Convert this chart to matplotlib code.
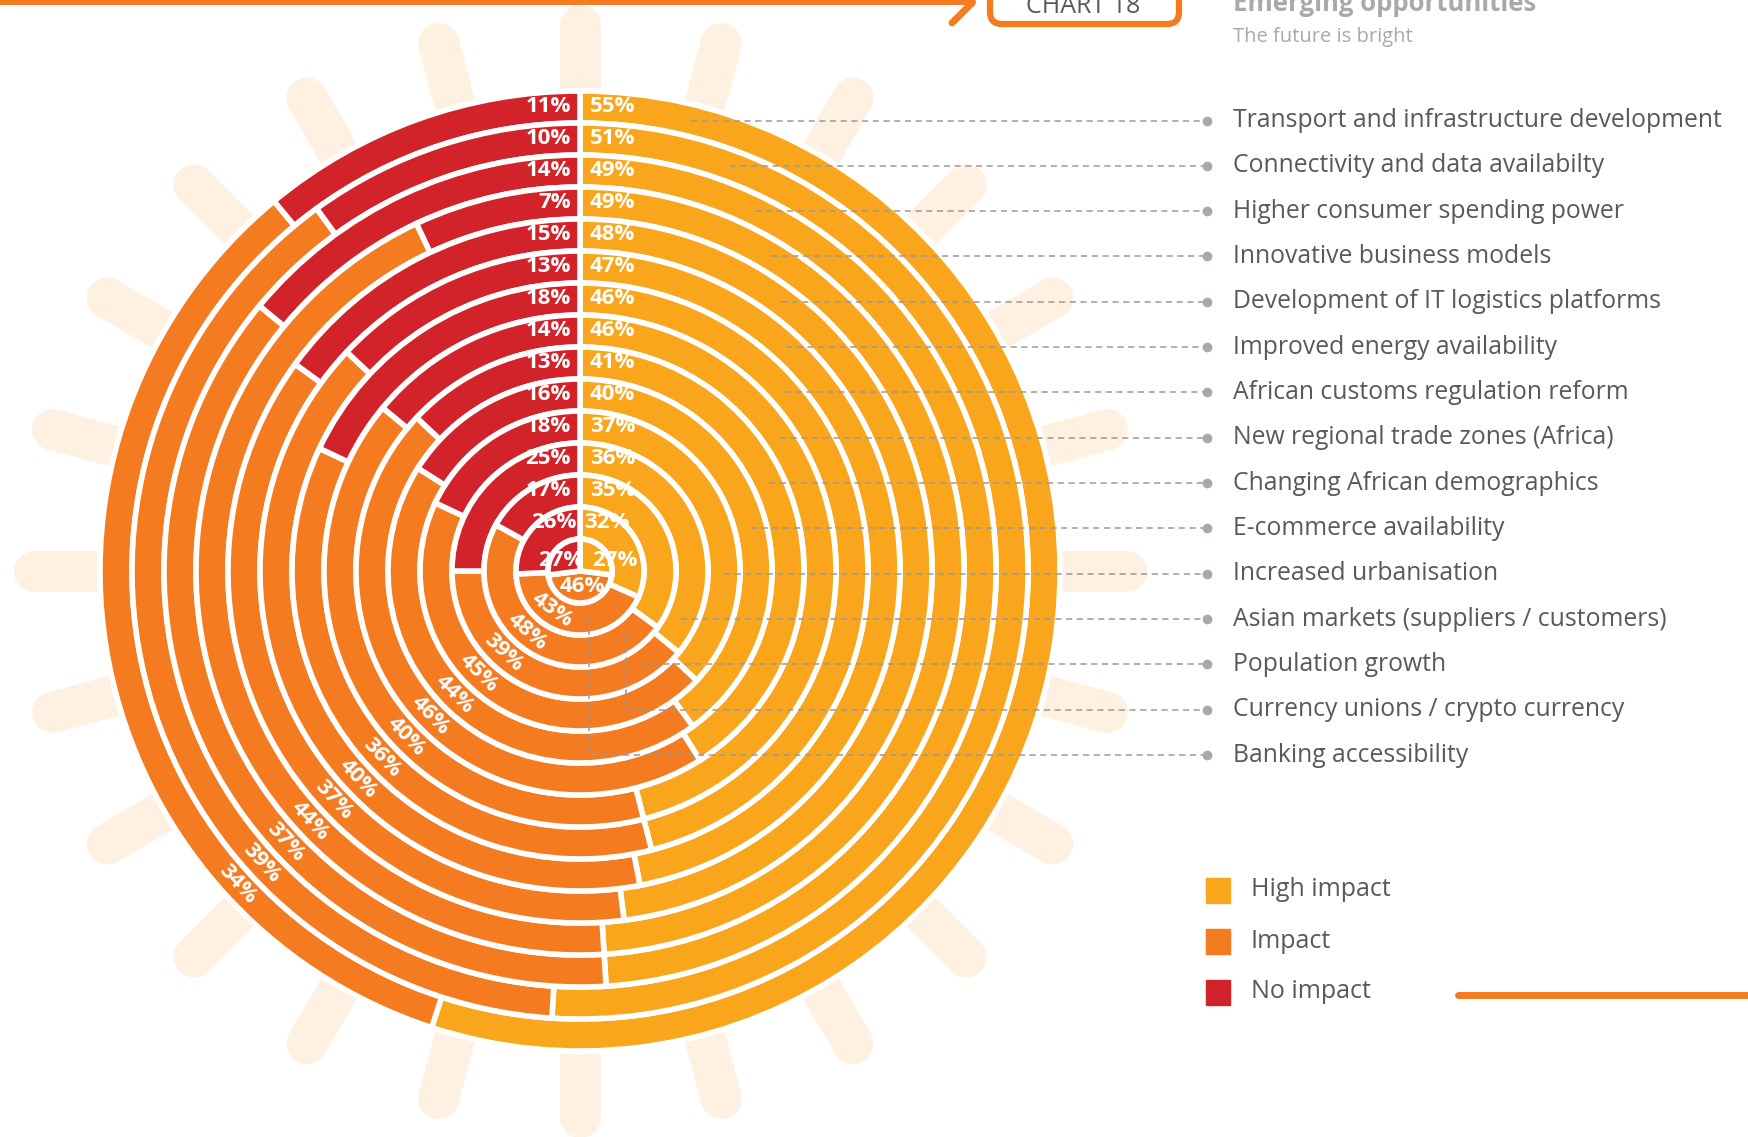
import numpy as np
import matplotlib.pyplot as plt
from matplotlib.patches import Wedge, Circle, Rectangle, FancyBboxPatch

plt.rcParams['font.family'] = ['Open Sans', 'DejaVu Sans']

# data (outermost ring first)
categories = [
    "Transport and infrastructure development",
    "Connectivity and data availabilty",
    "Higher consumer spending power",
    "Innovative business models",
    "Development of IT logistics platforms",
    "Improved energy availability",
    "African customs regulation reform",
    "New regional trade zones (Africa)",
    "Changing African demographics",
    "E-commerce availability",
    "Increased urbanisation",
    "Asian markets (suppliers / customers)",
    "Population growth",
    "Currency unions / crypto currency",
    "Banking accessibility",
]
high = [55, 51, 49, 49, 48, 47, 46, 46, 41, 40, 37, 36, 35, 32, 27]
impact = [34, 39, 37, 44, 37, 40, 36, 40, 46, 44, 45, 39, 48, 43, 46]
no_impact = [11, 10, 14, 7, 15, 13, 18, 14, 13, 16, 18, 25, 17, 26, 27]
legend_labels = ["High impact", "Impact", "No impact"]

YELLOW = "#F9A61C"
ORANGE = "#F47B20"
RED = "#D2232A"
colors = [YELLOW, ORANGE, RED]
DARK = "#58595B"
LIGHT = "#A7A9AC"

W, H = 1749, 1137
cx, cy = 580, H - 571
ring_w = 32
n = len(categories)


def Y(y_img):
    return H - y_img


fig = plt.figure(figsize=(W / 100, H / 100), dpi=100)
ax = fig.add_axes([0, 0, 1, 1])
ax.set_xlim(0, W)
ax.set_ylim(0, H)
ax.axis("off")

# sun rays behind the rings
for a in range(0, 360, 15):
    t = np.deg2rad(90 - a)
    ax.plot([cx + 400 * np.cos(t), cx + 546 * np.cos(t)],
            [cy + 400 * np.sin(t), cy + 546 * np.sin(t)],
            color="#FEF1E2", lw=41 * 0.72, solid_capstyle="round", zorder=1)
ax.add_patch(Circle((cx, cy), 482, color="white", zorder=2))

# rings
ang = np.deg2rad(41)
d = np.array([-np.cos(ang), -np.sin(ang)])
p0 = np.array([0.0, -14.6])
for k in range(n):
    i = n - 1 - k
    r_out = ring_w * (i + 1)
    width = ring_w if i > 0 else None
    vals = [high[k], impact[k], no_impact[k]]
    tot = sum(vals)
    a0 = 0
    for v, c in zip(vals, colors):
        a1 = a0 + v / tot * 360
        ax.add_patch(Wedge((cx, cy), r_out, 90 - a1, 90 - a0, width=width,
                           facecolor=c, edgecolor="white", lw=4, zorder=3))
        a0 = a1

    lab = dict(color="white", fontsize=16, fontweight="bold", zorder=6)
    if i > 0:
        r_mid = r_out - ring_w / 2
        off = 4 if i == 1 else 10
        ax.text(cx + off, cy + r_mid, f"{high[k]}%", ha="left", va="center", **lab)
        ax.text(cx - off + 1, cy + r_mid, f"{no_impact[k]}%", ha="right", va="center", **lab)
        b = p0 @ d
        t = -b + np.sqrt(b ** 2 - p0 @ p0 + r_mid ** 2)
        p = p0 + t * d
        rot = np.degrees(np.arctan2(p[1], p[0])) + 90
        ax.text(cx + p[0], cy + p[1], f"{impact[k]}%", ha="center", va="center",
                rotation=rot, rotation_mode="anchor", **lab)
    else:
        ax.text(cx + 12, cy + 11, f"{high[k]}%", ha="left", va="center", **lab)
        ax.text(cx + 4, cy + 11, f"{no_impact[k]}%", ha="right", va="center", **lab)
        ax.text(cx + 2, cy - 16, f"{impact[k]}%", ha="center", va="center", **lab)

# leader lines and category labels
dot_x = 1207
drop_x = {"Currency unions / crypto currency": 46, "Banking accessibility": 9}
for k, name in enumerate(categories):
    i = n - 1 - k
    ly = Y(120.5 + 45.33 * k)
    dy = ly - cy
    r_mid = ring_w * (i + 0.5)
    if abs(dy) >= r_mid:
        r_mid += ring_w
    if name in drop_x:
        x0 = drop_x[name]
        y0 = -np.sqrt(r_mid ** 2 - x0 ** 2)
        xs, ys = [cx + x0, cx + x0, dot_x], [cy + y0, ly, ly]
    else:
        xs, ys = [cx + np.sqrt(r_mid ** 2 - dy ** 2), dot_x], [ly, ly]
    ax.plot(xs, ys, color="#9A9A9A", lw=1.1, ls=(0, (4, 3)), zorder=5)
    ax.plot(dot_x, ly, "o", ms=6, color=LIGHT, zorder=5)
    ax.text(1233, ly, name, ha="left", va="center", fontsize=17.8, color=DARK)

# legend
for j, (name, c) in enumerate(zip(legend_labels, colors)):
    yc = Y(890 + 51 * j)
    ax.add_patch(Rectangle((1206, yc - 12.5), 24, 25, color=c))
    ax.text(1251, yc, name, ha="left", va="center", fontsize=18, color=DARK)

# header decoration
orange_kw = dict(color=ORANGE, lw=5, solid_capstyle="round")
ax.plot([0, 972], [Y(1), Y(1)], **orange_kw)
ax.plot([952, 972], [Y(23), Y(3)], **orange_kw)
ax.add_patch(FancyBboxPatch((990, Y(24)), 189, 60,
                            boxstyle="round,pad=0,rounding_size=12",
                            facecolor="white", edgecolor=ORANGE, lw=4.5, zorder=4))
ax.text(1083, Y(13), "CHART 18", ha="center", va="baseline", fontsize=18,
        color=DARK, zorder=5)
ax.text(1233, Y(11), "Emerging opportunities", ha="left", va="baseline",
        fontsize=18.5, fontweight="bold", color=LIGHT)
ax.text(1233, Y(37), "The future is bright", ha="left", va="center",
        fontsize=14.5, color=LIGHT)
ax.plot([1458, W + 10], [Y(995), Y(995)], **orange_kw)

fig.savefig("out.png", dpi=100)
